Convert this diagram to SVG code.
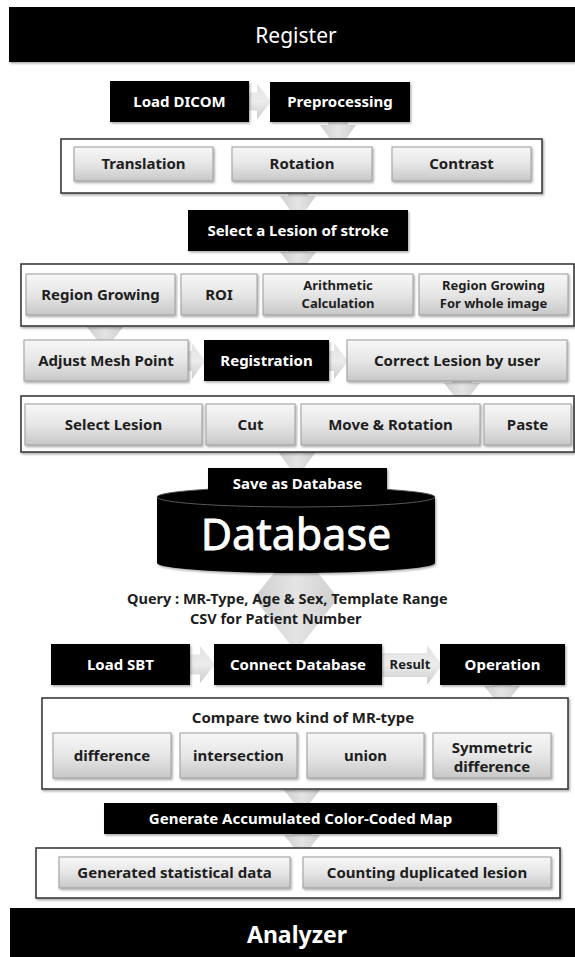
<svg xmlns="http://www.w3.org/2000/svg" width="575" height="957" viewBox="0 0 575 957">
<defs>
  <linearGradient id="gbox" x1="0" y1="0" x2="0" y2="1">
    <stop offset="0" stop-color="#f7f7f7"/>
    <stop offset="0.5" stop-color="#e6e6e6"/>
    <stop offset="1" stop-color="#c8c8c8"/>
  </linearGradient>
  <linearGradient id="garrV" x1="0" y1="0" x2="1" y2="0">
    <stop offset="0" stop-color="#cfcfcf"/>
    <stop offset="0.5" stop-color="#e4e4e4"/>
    <stop offset="1" stop-color="#cfcfcf"/>
  </linearGradient>
  <linearGradient id="garrH" x1="0" y1="0" x2="0" y2="1">
    <stop offset="0" stop-color="#e2e2e2"/>
    <stop offset="0.5" stop-color="#ececec"/>
    <stop offset="1" stop-color="#cbcbcb"/>
  </linearGradient>
  <filter id="sh" x="-10%" y="-20%" width="120%" height="150%">
    <feDropShadow dx="1.2" dy="1.5" stdDeviation="0.9" flood-color="#000" flood-opacity="0.35"/>
  </filter>
</defs>
<style>
  .blk{fill:#000;filter:url(#sh)}
  .gry{fill:url(#gbox);stroke:#9c9c9c;stroke-width:1;filter:url(#sh)}
  .frm{fill:#fff;stroke:#3c3c3c;stroke-width:1.6;filter:url(#sh)}
  .av{fill:url(#garrV)}
  .ah{fill:url(#garrH)}
  text{font-family:"Noto Sans","Open Sans","Liberation Sans",sans-serif;text-anchor:middle}
  .tw{fill:#fff;font-weight:bold;font-size:15px}
  .tg{fill:#1e1e1e;font-weight:bold;font-size:15px}
  .ts{fill:#1e1e1e;font-weight:bold;font-size:13px}
  .tq{fill:#1e1e1e;font-weight:bold;font-size:14.5px;text-anchor:start}
</style>

<g id="connectors">
  <!-- horizontal arrows -->
  <polygon class="ah" points="240,92.5 257,92.5 257,83.5 271,101.5 257,119.5 257,110.5 240,110.5"/>
  <polygon class="ah" points="180,351 192,351 192,343 205,361 192,379 192,371 180,371"/>
  <polygon class="ah" points="322,351 334,351 334,343 348,361 334,379 334,371 322,371"/>
  <polygon class="ah" points="182,654.5 200,654.5 200,646 215,664.5 200,683 200,674.5 182,674.5"/>
  <polygon class="ah" points="375,653 427,653 427,645 442,665 427,685 427,677 375,677"/>
  <!-- vertical arrows -->
  <polygon class="av" points="328,112 348,112 348,125 356,125 338,150 320,125 328,125"/>
  <polygon class="av" points="288,183 308,183 308,196 316,196 298,221 280,196 288,196"/>
  <polygon class="av" points="288,241 308,241 308,252 316,252 298,275 280,252 288,252"/>
  <polygon class="av" points="95,316 115,316 115,327 123,327 105,350 87,327 95,327"/>
  <polygon class="av" points="452,372 472,372 472,383 480,383 462,406 444,383 452,383"/>
  <polygon class="av" points="287,442 307,442 307,453 315,453 297,478 279,453 287,453"/>
  <polygon class="av" points="492,675 512,675 512,686 520,686 502,708 484,686 492,686"/>
  <polygon class="av" points="292,779 312,779 312,790 320,790 302,813 284,790 292,790"/>
  <polygon class="av" points="292,824 312,824 312,835 320,835 302,858 284,835 292,835"/>
  <!-- database double arrow -->
  <polygon class="av" points="296,545 338,598 296,652 254,598"/>
  <text class="tq" x="127" y="604">Query : MR-Type, Age &amp; Sex, Template Range</text>
  <text class="tq" x="190" y="624">CSV for Patient Number</text>
  <text class="ts" x="410" y="669">Result</text>
</g>

<g id="register">
  <rect class="blk" x="9" y="7" width="570" height="55"/>
  <text x="296" y="43" fill="#fff" font-size="21">Register</text>
</g>

<g id="load-dicom">
  <rect class="blk" x="110" y="81" width="139" height="41"/>
  <text class="tw" x="179.5" y="107">Load DICOM</text>
</g>
<g id="preprocessing">
  <rect class="blk" x="270" y="82" width="140" height="40"/>
  <text class="tw" x="340" y="107">Preprocessing</text>
</g>

<g id="frame-preprocess">
  <rect class="frm" x="61" y="139" width="481" height="54"/>
</g>
<g id="translation">
  <rect class="gry" x="74" y="147" width="139" height="34"/>
  <text class="tg" x="143.5" y="169">Translation</text>
</g>
<g id="rotation">
  <rect class="gry" x="232" y="147" width="140" height="34"/>
  <text class="tg" x="302" y="169">Rotation</text>
</g>
<g id="contrast">
  <rect class="gry" x="392" y="147" width="139" height="34"/>
  <text class="tg" x="461.5" y="169">Contrast</text>
</g>

<g id="select-lesion-stroke">
  <rect class="blk" x="188" y="210" width="220" height="41"/>
  <text class="tw" x="298" y="236">Select a Lesion of stroke</text>
</g>

<g id="frame-lesion">
  <rect class="frm" x="21" y="264" width="553" height="62"/>
</g>
<g id="region-growing">
  <rect class="gry" x="26" y="274" width="149" height="41"/>
  <text class="tg" x="100.5" y="300">Region Growing</text>
</g>
<g id="roi">
  <rect class="gry" x="181" y="274" width="76" height="41"/>
  <text class="tg" x="219" y="300">ROI</text>
</g>
<g id="arithmetic">
  <rect class="gry" x="263" y="274" width="150" height="41"/>
  <text class="ts" x="338" y="290">Arithmetic</text>
  <text class="ts" x="338" y="308">Calculation</text>
</g>
<g id="region-growing-whole">
  <rect class="gry" x="419" y="274" width="149" height="41"/>
  <text class="ts" x="493.5" y="290">Region Growing</text>
  <text class="ts" x="493.5" y="308">For whole image</text>
</g>

<g id="adjust-mesh">
  <rect class="gry" x="24" y="340" width="164" height="41"/>
  <text class="tg" x="106" y="366">Adjust Mesh Point</text>
</g>
<g id="registration">
  <rect class="blk" x="204" y="340" width="125" height="41"/>
  <text class="tw" x="266.5" y="366">Registration</text>
</g>
<g id="correct-lesion">
  <rect class="gry" x="347" y="340" width="220" height="41"/>
  <text class="tg" x="457" y="366">Correct Lesion by user</text>
</g>

<g id="frame-correct">
  <rect class="frm" x="21" y="396" width="553" height="56"/>
</g>
<g id="select-lesion">
  <rect class="gry" x="25" y="404" width="177" height="41"/>
  <text class="tg" x="113.5" y="430">Select Lesion</text>
</g>
<g id="cut">
  <rect class="gry" x="206" y="404" width="89" height="41"/>
  <text class="tg" x="250.5" y="430">Cut</text>
</g>
<g id="move-rotation">
  <rect class="gry" x="301" y="404" width="179" height="41"/>
  <text class="tg" x="390.5" y="430">Move &amp; Rotation</text>
</g>
<g id="paste">
  <rect class="gry" x="484" y="404" width="87" height="41"/>
  <text class="tg" x="527.5" y="430">Paste</text>
</g>

<g id="database">
  <path d="M157,497 L157,563 A139,10 0 0 0 435,563 L435,497 Z" fill="#000" filter="url(#sh)"/>
  <ellipse cx="296" cy="497" rx="139" ry="10" fill="#000" stroke="#5a5a5a" stroke-width="1"/>
  <text x="296" y="550" fill="#fff" stroke="#fff" stroke-width="0.8" font-size="43">Database</text>
</g>
<g id="save-database">
  <rect class="blk" x="208" y="468" width="179" height="30"/>
  <text class="tw" x="297.5" y="488.5">Save as Database</text>
</g>

<g id="load-sbt">
  <rect class="blk" x="51" y="644" width="139" height="41"/>
  <text class="tw" x="120.5" y="670">Load SBT</text>
</g>
<g id="connect-database">
  <rect class="blk" x="214" y="644" width="168" height="41"/>
  <text class="tw" x="298" y="670">Connect Database</text>
</g>
<g id="operation">
  <rect class="blk" x="440" y="644" width="125" height="41"/>
  <text class="tw" x="502.5" y="670">Operation</text>
</g>

<g id="frame-compare">
  <rect class="frm" x="42" y="698" width="526" height="91"/>
  <text class="tg" x="303" y="723">Compare two kind of MR-type</text>
</g>
<g id="difference">
  <rect class="gry" x="53" y="733" width="118" height="45"/>
  <text class="tg" x="112" y="761">difference</text>
</g>
<g id="intersection">
  <rect class="gry" x="180" y="733" width="117" height="45"/>
  <text class="tg" x="238.5" y="761">intersection</text>
</g>
<g id="union">
  <rect class="gry" x="307" y="733" width="117" height="45"/>
  <text class="tg" x="365.5" y="761">union</text>
</g>
<g id="symmetric-difference">
  <rect class="gry" x="433" y="733" width="118" height="45"/>
  <text class="tg" x="492" y="753">Symmetric</text>
  <text class="tg" x="492" y="772">difference</text>
</g>

<g id="generate-map">
  <rect class="blk" x="104" y="803" width="393" height="31"/>
  <text class="tw" x="300.5" y="824">Generate Accumulated Color-Coded Map</text>
</g>

<g id="frame-statistics">
  <rect class="frm" x="36" y="848" width="524" height="50"/>
</g>
<g id="generated-statistical">
  <rect class="gry" x="59" y="857" width="231" height="31"/>
  <text class="tg" x="174.5" y="878">Generated statistical data</text>
</g>
<g id="counting-duplicated">
  <rect class="gry" x="303" y="857" width="248" height="31"/>
  <text class="tg" x="427" y="878">Counting duplicated lesion</text>
</g>

<g id="analyzer">
  <rect x="10" y="908" width="570" height="55" fill="#000"/>
  <text x="297" y="943" fill="#fff" font-size="23" font-weight="bold">Analyzer</text>
</g>
</svg>
